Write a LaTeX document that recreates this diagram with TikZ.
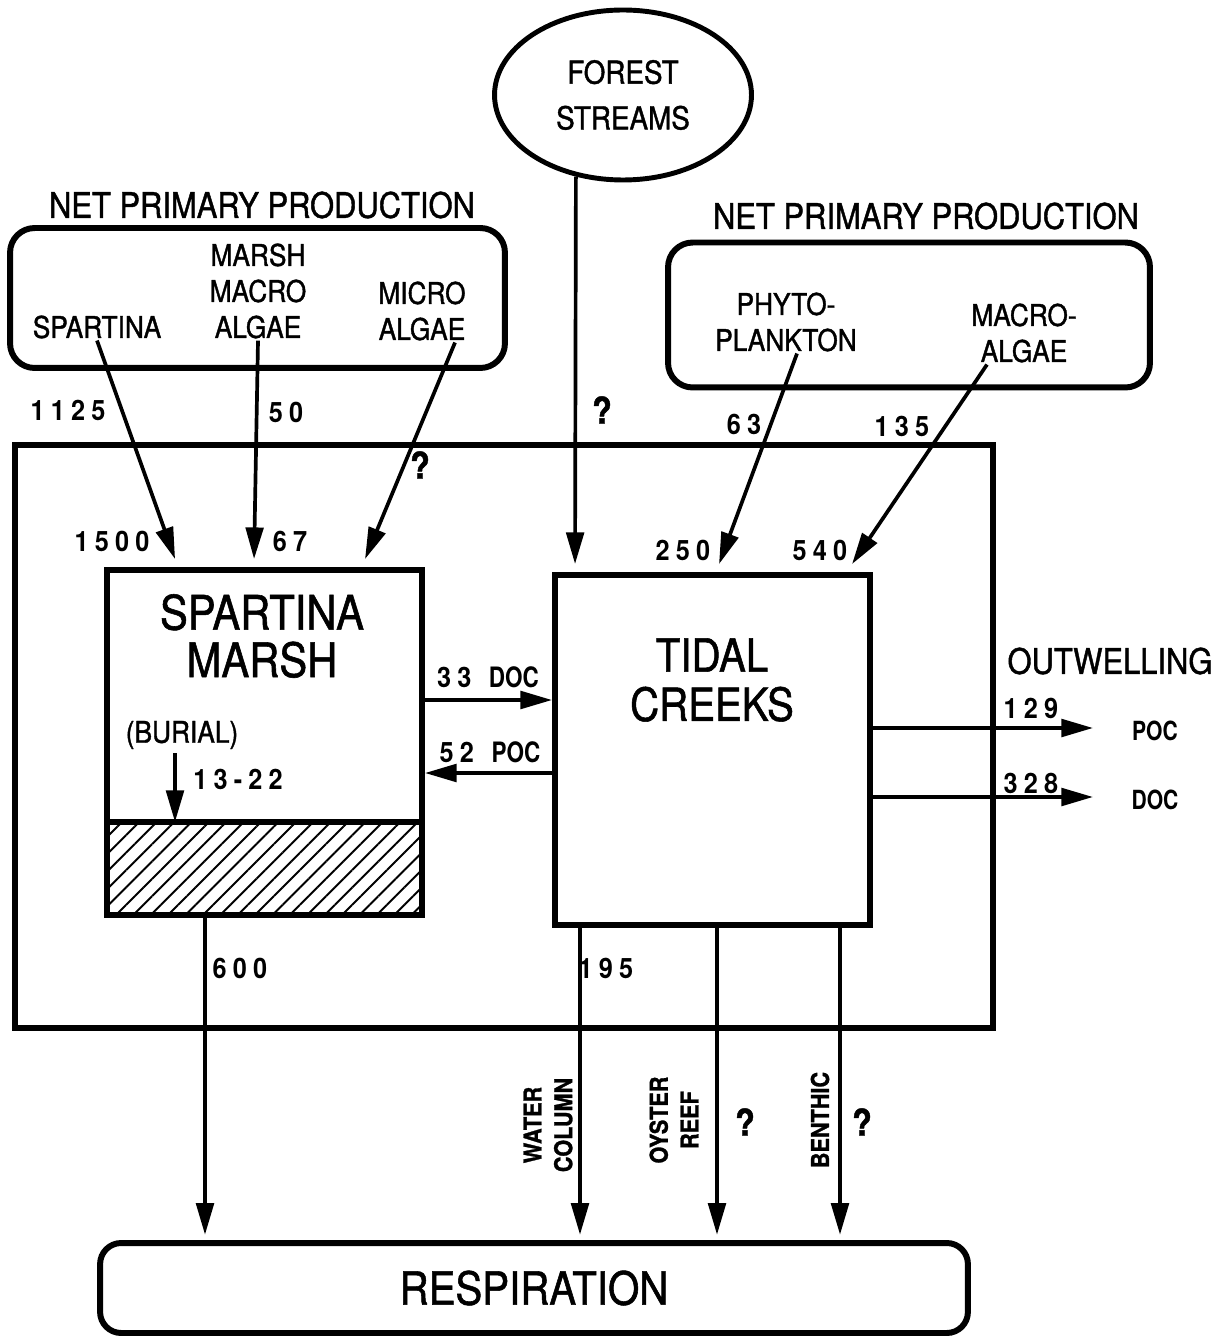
\documentclass[tikz,border=0pt]{standalone}
\usepackage{fontspec}
\setmainfont{TeX Gyre Heros}[FakeStretch=0.88,RawFeature={embolden=1.2}]
\newfontfamily\numfont{TeX Gyre Heros}[FakeStretch=0.9,LetterSpace=22]
\newfontfamily\sigfont{TeX Gyre Heros}[FakeStretch=0.8]
\usetikzlibrary{shapes.geometric,arrows.meta,calc,patterns.meta}

\tikzset{
  flusso/.style={-{Triangle[length=18pt,width=10pt]}, line width=2.1pt},
  scatola/.style={draw, line width=3.4pt, inner sep=0pt},
  testo/.style={font=\fontsize{17}{20.5}\selectfont, align=center, inner sep=1pt},
  titolo/.style={font=\fontsize{20}{24}\selectfont, inner sep=1pt},
  grande/.style={font=\fontsize{27}{27}\selectfont, align=center, inner sep=1pt},
  numero/.style={font=\numfont\bfseries\fontsize{16}{18}\selectfont, inner sep=1pt},
  domanda/.style={font=\bfseries\fontsize{21}{22}\selectfont, inner sep=1pt},
  verticale/.style={font=\bfseries\fontsize{14}{17.5}\selectfont, align=center, rotate=90, inner sep=1pt}
}

\begin{document}
\begin{tikzpicture}[x=0.02cm, y=-0.02cm]

        \useasboundingbox (0,0) rectangle (1228,1344);

        % 1. Cornice esterna del sistema
        \draw[line width=3.4pt] (15,445) rectangle (993,1028);

        % 2. Sorgente esterna e produzione primaria
        \node[draw, ellipse, line width=2.8pt, minimum width=5.14cm, minimum height=3.4cm,
              font=\fontsize{18}{26}\selectfont, align=center] (forest) at (623,95) {FOREST\\STREAMS};

        \node[titolo] (tnppL) at (262,205) {NET PRIMARY PRODUCTION};
        \node[scatola, rounded corners=14pt, minimum width=9.9cm, minimum height=2.8cm] (nppL) at (257.5,298) {};
        \node[testo] (spt) at (97,327) {SPARTINA};
        \node[testo] (mma) at (258,291) {MARSH\\MACRO\\ALGAE};
        \node[testo] (mic) at (422,311) {MICRO\\ALGAE};

        \node[titolo] (tnppR) at (926,216) {NET PRIMARY PRODUCTION};
        \node[scatola, rounded corners=14pt, minimum width=9.64cm, minimum height=2.9cm] (nppR) at (909,315) {};
        \node[testo] (phy) at (786,322) {PHYTO-\\PLANKTON};
        \node[testo] (mac) at (1024,333) {MACRO-\\ALGAE};

        % 3. Compartimenti: palude e canali di marea
        \node[scatola, minimum width=6.3cm, minimum height=6.9cm] (marsh) at (264.5,742.5) {};
        \node[grande] (tmarsh) at (262,636) {SPARTINA\\MARSH};
        \coordinate (divL) at ($(marsh.west)+(0,79.5)$);
        \fill[pattern={Lines[angle=45,distance=7pt,line width=1.1pt]}] (divL) rectangle (marsh.south east);
        \draw[line width=3.4pt] (divL) -- (divL -| marsh.east);

        \node[scatola, minimum width=6.3cm, minimum height=7cm] (tidal) at (712.5,750) {};
        \node[grande, font=\fontsize{26}{28}\selectfont] (ttidal) at (712,680) {TIDAL\\CREEKS};

        \node[scatola, rounded corners=12pt, minimum width=17.36cm, minimum height=1.8cm,
              font=\fontsize{26}{28}\selectfont] (resp) at (534,1288) {RESPIRATION};

        % 4. Flussi in ingresso
        \draw[flusso] (spt.south) -- ($(marsh.north west)+(71,-8)$);
        \draw[flusso] (mma.south) -- ($(marsh.north west)+(150,-8)$);
        \draw[flusso] ($(mic.south)+(33,0)$) -- ($(marsh.north west)+(261,-8)$);
        \draw[flusso] (forest.240) -- ($(tidal.north west)+(23,-8)$);
        \draw[flusso] ($(phy.south)+(11,0)$) -- ($(tidal.north west)+(167,-8)$);
        \draw[flusso] ($(mac.south)+(-37,0)$) -- ($(tidal.north west)+(300,-8)$);

        \node[numero] (n1125) at (68,410) {1125};
        \node[numero] (n50) at (286,412) {50};
        \node[domanda] (q1) at (420,465) {?};
        \node[numero] (n1500) at (112,541) {1500};
        \node[numero] (n67) at (290,541) {67};
        \node[domanda] (q2) at (602,410) {?};
        \node[numero] (n63) at (744,424) {63};
        \node[numero] (n135) at (902,426) {135};
        \node[numero] (n250) at (683,550) {250};
        \node[numero] (n540) at (820,550) {540};

        % 5. Scambi tra palude e canali
        \draw[flusso] ($(marsh.east)+(0,-42.5)$) -- ($(tidal.west)+(0,-50)$);
        \draw[flusso] ($(tidal.west)+(0,23)$) -- ($(marsh.east)+(0,30.5)$);
        \node[numero] (ldoc) at (488,677) {33\hspace{10pt}{\sigfont\bfseries DOC}};
        \node[numero] (lpoc) at (490,752) {52\hspace{10pt}{\sigfont\bfseries POC}};

        % 6. Seppellimento
        \node[testo] (burial) at (182,735) {(BURIAL)};
        \coordinate (burA) at ($(burial.south)+(-7,2)$);
        \draw[flusso] (burA) -- (burA |- divL);
        \node[numero] (n1322) at (238,779) {13-22};

        % 7. Outwelling verso il mare
        \node[titolo] (tout) at (1110,661) {OUTWELLING};
        \coordinate (outP) at (1093,728);
        \coordinate (outD) at (1093,797);
        \draw[flusso] (tidal.east |- outP) -- (outP);
        \draw[flusso] (tidal.east |- outD) -- (outD);
        \node[numero] (n129) at (1031,708) {129};
        \node[numero] (n328) at (1031,783) {328};
        \node[numero, font=\sigfont\bfseries\fontsize{15}{16}\selectfont] (opoc) at (1155,731) {POC};
        \node[numero, font=\sigfont\bfseries\fontsize{15}{16}\selectfont] (odoc) at (1155,800) {DOC};

        % 8. Respirazione
        \coordinate (mb) at ($(marsh.south)+(-59.5,0)$);
        \coordinate (wc) at ($(tidal.south)+(-132.5,0)$);
        \coordinate (oy) at ($(tidal.south)+(4.5,0)$);
        \coordinate (be) at ($(tidal.south)+(127.5,0)$);
        \draw[flusso, shorten >=3pt] (mb) -- (mb |- resp.north);
        \draw[flusso, shorten >=3pt] (wc) -- (wc |- resp.north);
        \draw[flusso, shorten >=3pt] (oy) -- (oy |- resp.north);
        \draw[flusso, shorten >=3pt] (be) -- (be |- resp.north);

        \node[numero] (n600) at (240,968) {600};
        \node[numero] (n195) at (606,968) {195};
        \node[verticale] (lwc) at (548,1125) {WATER\\COLUMN};
        \node[verticale] (loy) at (674,1120) {OYSTER\\REEF};
        \node[domanda] (q3) at (745,1122) {?};
        \node[verticale] (lbe) at (820,1120) {BENTHIC};
        \node[domanda] (q4) at (862,1122) {?};

    \end{tikzpicture}
\end{document}
